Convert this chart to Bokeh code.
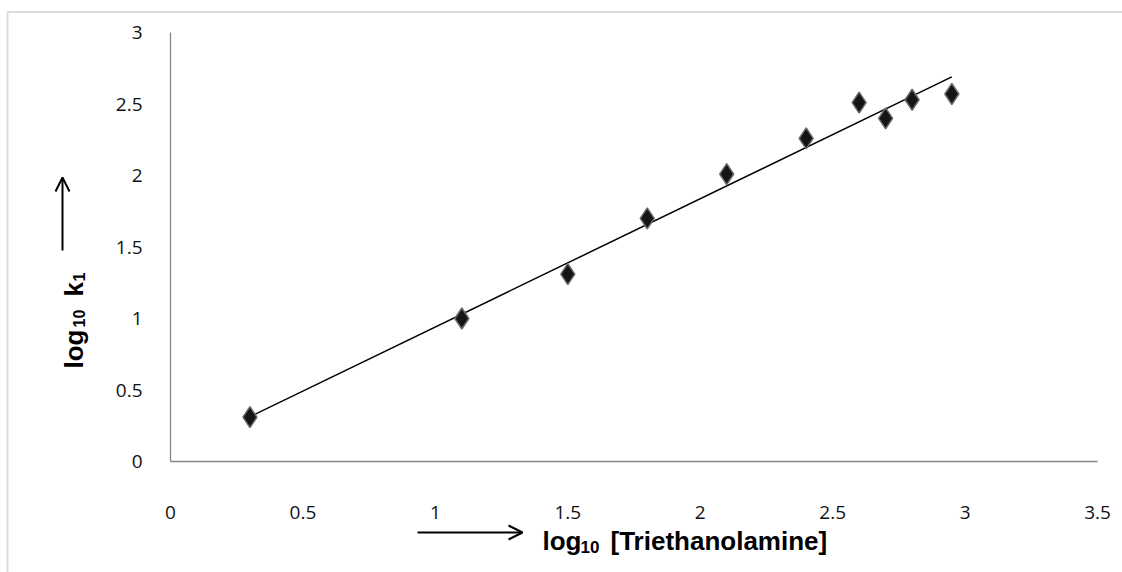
import math
import numpy as np
from bokeh.plotting import figure
from bokeh.models import ColumnDataSource, FixedTicker, Label, Arrow, OpenHead, PolyAnnotation
from bokeh.embed import file_html
from bokeh.resources import INLINE

# ---- data ----
log_tea = [0.3, 1.1, 1.5, 1.8, 2.1, 2.4, 2.6, 2.7, 2.8, 2.95]
log_k1 = [0.31, 1.0, 1.31, 1.7, 2.01, 2.26, 2.51, 2.4, 2.53, 2.57]

x_ticks = [0, 0.5, 1, 1.5, 2, 2.5, 3, 3.5]
x_tick_labels = ["0", "0.5", "1", "1.5", "2", "2.5", "3", "3.5"]
y_ticks = [0, 0.5, 1, 1.5, 2, 2.5, 3]
y_tick_labels = ["0", "0.5", "1", "1.5", "2", "2.5", "3"]

x_title_main = "log"
x_title_sub = "10"
x_title_rest = "[Triethanolamine]"
y_title_main = "log"
y_title_sub = "10"
y_title_k = "k"
y_title_k_sub = "1"

# linear trend line (least squares fit of the data)
slope, intercept = np.polyfit(log_tea, log_k1, 1)
trend_x = [min(log_tea), max(log_tea)]
trend_y = [slope * v + intercept for v in trend_x]

# ---- layout: the frame fills the canvas, axes are fixed at 0 ----
W, H = 1122, 572
PL, PR, PT, PB = 170, 1097, 32, 461          # plot-area pixel edges
X0, X1, Y0, Y1 = 0.0, 3.5, 0.0, 3.0
sx = (PR - PL) / (X1 - X0)
sy = (PB - PT) / (Y1 - Y0)


def X(px):
    return X0 + (px - PL) / sx


def Y(py):
    return Y0 + (PB - py) / sy


p = figure(
    width=W, height=H,
    x_range=(X(0), X(W)), y_range=(Y(H), Y(0)),
    output_backend="svg", toolbar_location=None,
    min_border=0, min_border_left=0, min_border_right=0,
    min_border_top=0, min_border_bottom=0,
)
p.outline_line_color = None
p.grid.visible = False
p.background_fill_color = "white"
p.border_fill_color = "white"

# chart-area border (only its top and left edges fall inside the picture)
p.add_layout(PolyAnnotation(
    xs=[X(7), X(7), X(W + 300), X(W + 300)],
    ys=[Y(H + 300), Y(11.5), Y(11.5), Y(H + 300)],
    fill_alpha=0, line_color="#8c8c8c", line_width=2, level="underlay"))

p.line(trend_x, trend_y, line_color="black", line_width=1.5)
src = ColumnDataSource(dict(x=log_tea, y=log_k1))
p.scatter("x", "y", source=src, marker="diamond", size=21,
          fill_color="#151515", line_color="#6a6a6a", line_width=1.5)

for ax, ticks, labels, b in ((p.xaxis[0], x_ticks, x_tick_labels, (X0, X1)),
                             (p.yaxis[0], y_ticks, y_tick_labels, (Y0, Y1))):
    ax.fixed_location = 0
    ax.bounds = b
    ax.ticker = FixedTicker(ticks=ticks)
    ax.major_label_overrides = {t: l for t, l in zip(ticks, labels)}
    ax.axis_line_color = "#868686"
    ax.axis_line_width = 1.3
    ax.major_tick_line_color = None
    ax.minor_tick_line_color = None
    ax.major_label_text_font = "Open Sans"
    ax.major_label_text_font_size = "19px"
    ax.major_label_text_color = "#111111"

p.xaxis[0].major_label_standoff = 38
p.yaxis[0].major_label_standoff = 22

bold = "Liberation Sans"


def lab(px, py, text, size, angle=0.0):
    p.add_layout(Label(x=X(px), y=Y(py), text=text, angle=angle,
                       text_font=bold, text_font_style="bold", text_font_size=size,
                       text_color="black", text_baseline="alphabetic", text_align="left"))


# x-axis title
lab(542, 540, x_title_main, "26px")
lab(580, 546, x_title_sub, "17px")
lab(610, 540, x_title_rest, "26px")
p.add_layout(Arrow(x_start=X(417), y_start=Y(532), x_end=X(522), y_end=Y(532),
                   line_color="black", line_width=2,
                   end=OpenHead(size=14, line_color="black", line_width=2)))

# y-axis title (rotated)
ang = math.pi / 2
lab(73, 368, y_title_main, "26px", ang)
lab(78, 327, y_title_sub, "16px", ang)
lab(73, 296, y_title_k, "26px", ang)
lab(78, 281, y_title_k_sub, "16px", ang)
p.add_layout(Arrow(x_start=X(62), y_start=Y(250), x_end=X(62), y_end=Y(177),
                   line_color="black", line_width=2,
                   end=OpenHead(size=14, line_color="black", line_width=2)))

open("out.html", "w").write(file_html(p, INLINE))
